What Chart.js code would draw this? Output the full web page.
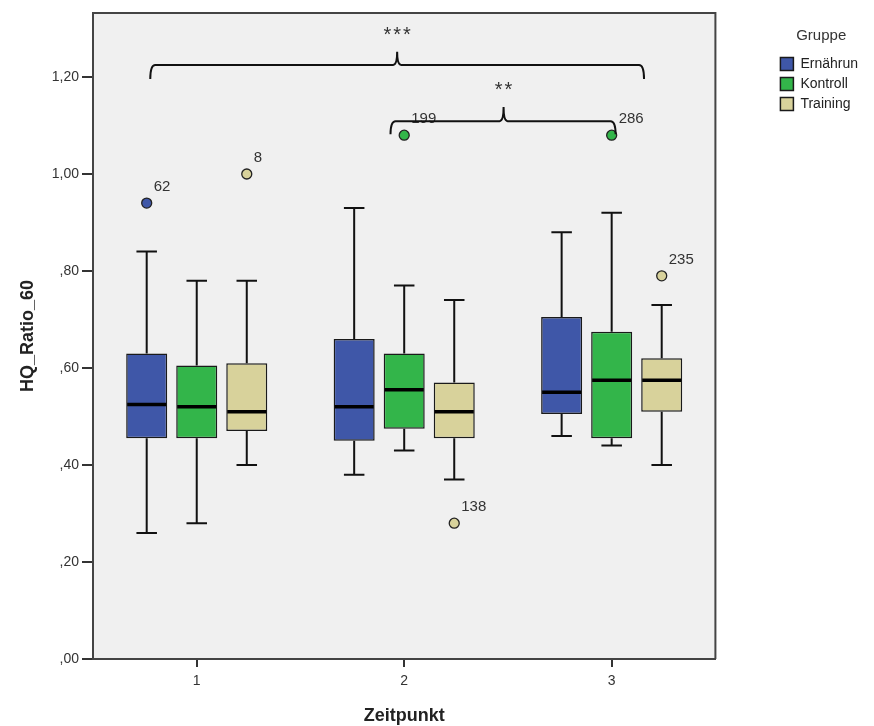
<!DOCTYPE html>
<html>
<head>
<meta charset="utf-8">
<script src="https://cdn.jsdelivr.net/npm/chart.js@4.4.1/dist/chart.umd.min.js"></script>
<style>
  html, body { margin: 0; padding: 0; background: #ffffff; }
  #wrap { width: 874px; height: 726px; position: relative; }
</style>
</head>
<body>
<div id="wrap"><canvas id="c" width="874" height="726"></canvas></div>
<script>
// ---- data ----
const zeitpunkte = ['1', '2', '3'];
const gruppen = ['Ernährun', 'Kontroll', 'Training'];

const ernMin    = [0.26, 0.38, 0.46];
const ernQ1     = [0.455, 0.45, 0.505];
const ernMedian = [0.525, 0.52, 0.55];
const ernQ3     = [0.63, 0.66, 0.705];
const ernMax    = [0.84, 0.93, 0.88];

const konMin    = [0.28, 0.43, 0.44];
const konQ1     = [0.455, 0.475, 0.455];
const konMedian = [0.52, 0.555, 0.575];
const konQ3     = [0.605, 0.63, 0.675];
const konMax    = [0.78, 0.77, 0.92];

const traMin    = [0.40, 0.37, 0.40];
const traQ1     = [0.47, 0.455, 0.51];
const traMedian = [0.51, 0.51, 0.575];
const traQ3     = [0.61, 0.57, 0.62];
const traMax    = [0.78, 0.74, 0.73];

// outliers: group index, zeitpunkt index, value, case label
const outlierGroup = [0, 2, 1, 2, 1, 2];
const outlierTime  = [0, 0, 1, 1, 2, 2];
const outlierValue = [0.94, 1.00, 1.08, 0.28, 1.08, 0.79];
const outlierLabel = ['62', '8', '199', '138', '286', '235'];

const yTicks = [0, 0.2, 0.4, 0.6, 0.8, 1.0, 1.2];

// significance brackets (x in category units from Zeitpunkt 1, y in data units)
const brackets = [
  { from: -0.224, to: 2.156, mid: 0.966, y: 1.225, endY: 1.196, tipY: 1.252, text: '***', textY: 1.293 },
  { from: 0.934, to: 2.019, mid: 1.479, y: 1.109, endY: 1.082, tipY: 1.138, text: '**', textY: 1.181 }
];

// ---- build ----
const colors = ['#3f57a8', '#33b54a', '#d8d29b'];
const stats = [
  { min: ernMin, q1: ernQ1, med: ernMedian, q3: ernQ3, max: ernMax },
  { min: konMin, q1: konQ1, med: konMedian, q3: konQ3, max: konMax },
  { min: traMin, q1: traQ1, med: traMedian, q3: traQ3, max: traMax }
];
const FONT = 'Liberation Sans, Arial, sans-serif';

const datasets = stats.map((s, gi) => ({
  label: gruppen[gi],
  data: s.q1.map((q, i) => [q, s.q3[i]]),
  backgroundColor: colors[gi],
  borderColor: '#1a1a1a',
  borderWidth: 1.5,
  borderSkipped: false,
  categoryPercentage: 0.7235,
  barPercentage: 0.82,
  xAxisID: 'x',
  yAxisID: 'y'
}));

const extras = {
  id: 'boxExtras',
  beforeDraw(chart) {
    const { ctx, chartArea: a } = chart;
    ctx.save();
    ctx.fillStyle = '#f0f0f0';
    ctx.fillRect(a.left, a.top, a.right - a.left, a.bottom - a.top);
    ctx.restore();
  },
  afterDatasetsDraw(chart) {
    const { ctx } = chart;
    const ys = chart.scales.y, xs = chart.scales.x;
    ctx.save();
    // whiskers and medians
    stats.forEach((s, gi) => {
      const meta = chart.getDatasetMeta(gi);
      meta.data.forEach((bar, i) => {
        const x = bar.x, w = bar.width;
        const cap = w * 0.5;
        ctx.strokeStyle = '#111';
        ctx.lineWidth = 2;
        ctx.beginPath();
        ctx.moveTo(x, ys.getPixelForValue(s.q3[i]));
        ctx.lineTo(x, ys.getPixelForValue(s.max[i]));
        ctx.moveTo(x - cap / 2, ys.getPixelForValue(s.max[i]));
        ctx.lineTo(x + cap / 2, ys.getPixelForValue(s.max[i]));
        ctx.moveTo(x, ys.getPixelForValue(s.q1[i]));
        ctx.lineTo(x, ys.getPixelForValue(s.min[i]));
        ctx.moveTo(x - cap / 2, ys.getPixelForValue(s.min[i]));
        ctx.lineTo(x + cap / 2, ys.getPixelForValue(s.min[i]));
        ctx.stroke();
        ctx.lineWidth = 3.5;
        ctx.strokeStyle = '#000';
        ctx.beginPath();
        ctx.moveTo(x - w / 2 + 1, ys.getPixelForValue(s.med[i]));
        ctx.lineTo(x + w / 2 - 1, ys.getPixelForValue(s.med[i]));
        ctx.stroke();
      });
    });
    // outliers
    ctx.font = '15px ' + FONT;
    ctx.textBaseline = 'middle';
    ctx.textAlign = 'left';
    outlierValue.forEach((v, k) => {
      const bar = chart.getDatasetMeta(outlierGroup[k]).data[outlierTime[k]];
      const px = bar.x, py = ys.getPixelForValue(v);
      ctx.beginPath();
      ctx.arc(px, py, 5, 0, Math.PI * 2);
      ctx.fillStyle = colors[outlierGroup[k]];
      ctx.fill();
      ctx.lineWidth = 1.3;
      ctx.strokeStyle = '#222';
      ctx.stroke();
      ctx.fillStyle = '#333';
      ctx.fillText(outlierLabel[k], px + 7, py - 16);
    });
    // brackets
    const x0 = xs.getPixelForValue(0), step = xs.getPixelForValue(1) - x0;
    const ux = u => x0 + u * step;
    ctx.strokeStyle = '#111';
    ctx.lineWidth = 2;
    brackets.forEach(b => {
      const l = ux(b.from), r = ux(b.to), m = ux(b.mid);
      const h = ys.getPixelForValue(b.y), e = ys.getPixelForValue(b.endY), t = ys.getPixelForValue(b.tipY);
      ctx.beginPath();
      ctx.moveTo(l, e);
      ctx.quadraticCurveTo(l, h, l + 5, h);
      ctx.lineTo(m - 4, h);
      ctx.quadraticCurveTo(m, h, m, t);
      ctx.quadraticCurveTo(m, h, m + 4, h);
      ctx.lineTo(r - 5, h);
      ctx.quadraticCurveTo(r, h, r, e);
      ctx.stroke();
      ctx.fillStyle = '#333';
      ctx.font = '20px ' + FONT;
      ctx.textAlign = 'center';
      if ('letterSpacing' in ctx) ctx.letterSpacing = '2px';
      ctx.fillText(b.text, m + 1, ys.getPixelForValue(b.textY) + 4);
      if ('letterSpacing' in ctx) ctx.letterSpacing = '0px';
    });
    ctx.restore();
  },
  afterDraw(chart) {
    const { ctx, chartArea: a } = chart;
    ctx.save();
    ctx.strokeStyle = '#444';
    ctx.lineWidth = 2;
    ctx.beginPath();
    ctx.moveTo(a.left, a.top);
    ctx.lineTo(a.right, a.top);
    ctx.lineTo(a.right, a.bottom);
    ctx.stroke();
    ctx.restore();
  }
};

new Chart(document.getElementById('c'), {
  type: 'bar',
  data: { labels: zeitpunkte, datasets },
  options: {
    responsive: false,
    animation: false,
    layout: { padding: { top: 13, right: 6, left: 0, bottom: 0 } },
    plugins: {
      tooltip: { enabled: false },
      legend: {
        position: 'right',
        align: 'start',
        title: { display: true, text: 'Gruppe', color: '#333', font: { family: FONT, size: 15 }, padding: { top: 15, bottom: 5 } },
        labels: { boxWidth: 13, boxHeight: 13, padding: 6, color: '#222', font: { family: FONT, size: 14 } }
      }
    },
    scales: {
      x: {
        type: 'category',
        offset: true,
        grid: { display: true, drawOnChartArea: false, drawTicks: true, tickLength: 8, color: '#333', lineWidth: 2, offset: false },
        border: { display: true, color: '#444', width: 2 },
        ticks: { color: '#333', padding: 6, font: { family: FONT, size: 14 } },
        title: { display: true, text: 'Zeitpunkt', color: '#222', font: { family: FONT, size: 18, weight: 'bold', lineHeight: 1 }, padding: { top: 0, bottom: 1 } },
        afterFit(s) { s.height = 67; }
      },
      y: {
        type: 'linear',
        min: 0,
        max: 1.332,
        grid: { display: true, drawOnChartArea: false, drawTicks: true, tickLength: 11, color: '#333', lineWidth: 2 },
        border: { display: true, color: '#444', width: 2 },
        afterBuildTicks(s) { s.ticks = yTicks.map(v => ({ value: v })); },
        ticks: {
          color: '#333', padding: 3, font: { family: FONT, size: 14 },
          callback(v) { const t = Number(v).toFixed(2).replace('.', ','); return t.startsWith('0') ? t.slice(1) : t; }
        },
        title: { display: true, text: 'HQ_Ratio_60', color: '#222', font: { family: FONT, size: 18, weight: 'bold', lineHeight: 1.2 }, padding: { top: 17, bottom: 0 } },
        afterFit(s) { s.width = 93; }
      },
      gap: {
        type: 'linear',
        position: 'right',
        display: true,
        grid: { display: false },
        border: { display: false },
        ticks: { display: false },
        afterFit(s) { s.width = 59; }
      }
    }
  },
  plugins: [extras]
});
</script>
</body>
</html>
